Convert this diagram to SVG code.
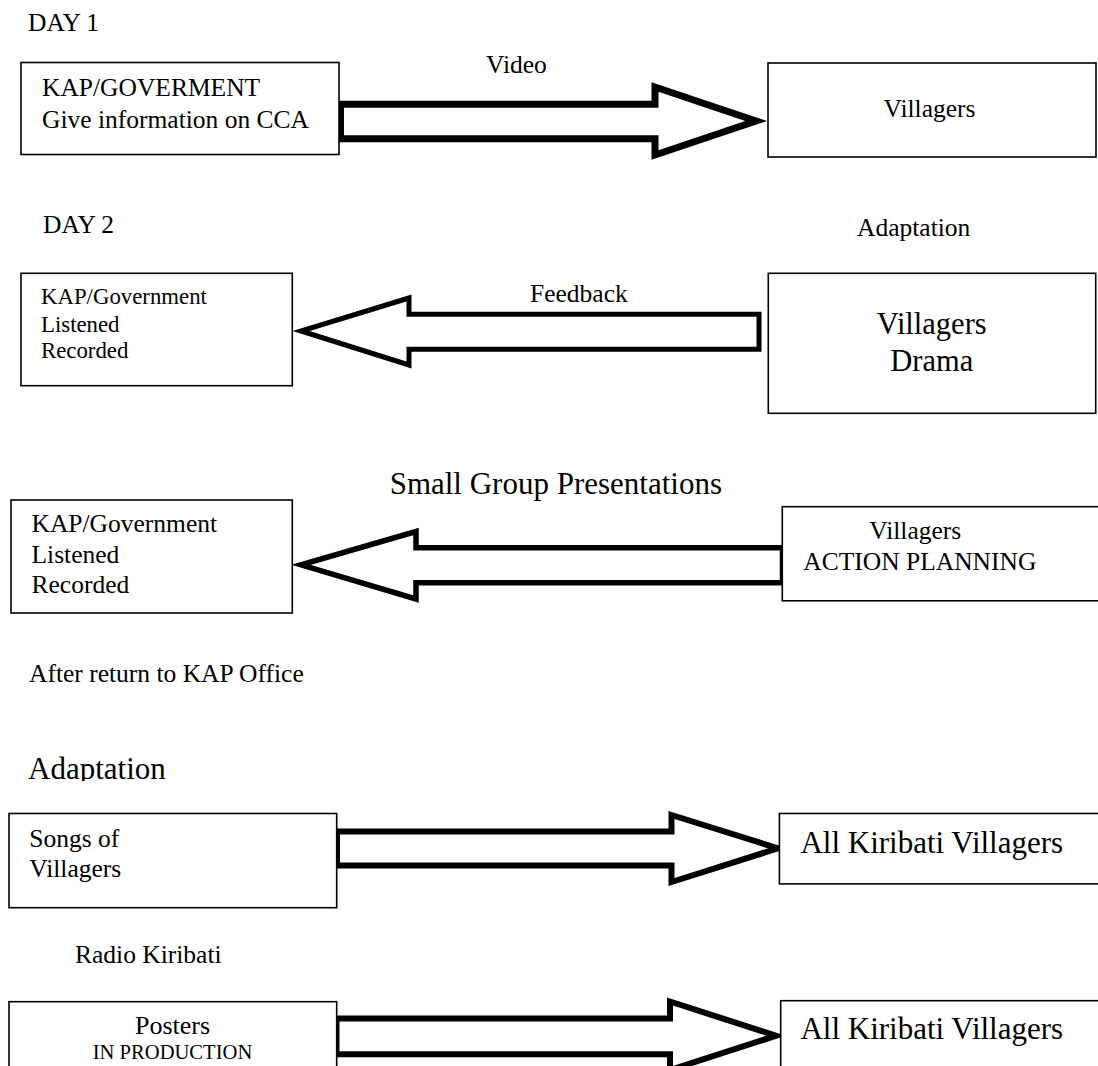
<svg xmlns="http://www.w3.org/2000/svg" width="1098" height="1066" viewBox="0 0 1098 1066">
<style>
text{font-family:"Liberation Serif","Times New Roman",serif;fill:#000}
.box{fill:#fff;stroke:#000;stroke-width:1.6}
.arr{fill:#fff;stroke:#000;stroke-linejoin:miter;stroke-miterlimit:10}
.t{font-size:25.5px}
.c{text-anchor:middle}
</style>
<defs>
<clipPath id="clipAd"><rect x="0" y="740" width="400" height="41"/></clipPath>
</defs>
<rect width="1098" height="1066" fill="#fff"/>

<!-- free labels -->
<text class="t" x="28" y="31">DAY 1</text>
<text class="t" x="43" y="233">DAY 2</text>
<text class="t" x="857" y="236">Adaptation</text>
<text class="t" x="486" y="72.5">Video</text>
<text class="t" x="530" y="301.5">Feedback</text>
<text x="722" y="494" font-size="31" text-anchor="end">Small Group Presentations</text>
<text class="t" x="29" y="681.7">After return to KAP Office</text>
<text x="28" y="779.4" font-size="31" clip-path="url(#clipAd)">Adaptation</text>
<text class="t" x="75" y="963.3">Radio Kiribati</text>

<!-- connectors -->
<g id="connectors">
<polygon class="arr" stroke-width="7" points="340.5,104.2 655,104.2 655,87 756,121 655,155 655,138.7 340.5,138.7"/>
<polygon class="arr" stroke-width="5" points="759,314.2 409,314.2 409,298 301,331 409,365 409,349.2 759,349.2"/>
<polygon class="arr" stroke-width="5.5" points="782.5,547.8 416,547.8 416,531.5 301,564.8 416,599 416,582.8 782.5,582.8"/>
<polygon class="arr" stroke-width="6" points="337,831.5 671.5,831.5 671.5,815 778,848.3 671.5,882 671.5,865.6 337,865.6"/>
<polygon class="arr" stroke-width="6" points="336.5,1018.4 670,1018.4 670,1001.5 776,1035.7 670,1070 670,1054.2 336.5,1054.2"/>
</g>

<!-- nodes -->
<g id="n-kap1">
<rect class="box" x="21" y="62.5" width="318" height="92"/>
<text class="t" x="42" y="96">KAP/GOVERMENT</text>
<text class="t" x="42" y="127.5">Give information on CCA</text>
</g>
<g id="n-villagers1">
<rect class="box" x="768" y="63" width="328" height="94"/>
<text class="t c" x="929.5" y="116.7">Villagers</text>
</g>
<g id="n-kap2">
<rect class="box" x="21" y="273.3" width="271.3" height="112.4"/>
<text x="41" y="304.3" font-size="22.8">KAP/Government</text>
<text x="41" y="331.7" font-size="22.8">Listened</text>
<text x="41" y="358.3" font-size="22.8">Recorded</text>
</g>
<g id="n-villagers2">
<rect class="box" x="768.3" y="273.3" width="327.4" height="140"/>
<text class="c" x="931.7" y="334" font-size="30.5">Villagers</text>
<text class="c" x="931.7" y="370.7" font-size="30.5">Drama</text>
</g>
<g id="n-kap3">
<rect class="box" x="11" y="500" width="281.3" height="113"/>
<text class="t" x="31.5" y="532">KAP/Government</text>
<text class="t" x="31.5" y="562.7">Listened</text>
<text class="t" x="31.5" y="593.3">Recorded</text>
</g>
<g id="n-villagers3">
<rect class="box" x="782.3" y="506.7" width="330" height="94.1"/>
<text class="t" x="869.3" y="539.3">Villagers</text>
<text class="t" x="803.3" y="570">ACTION PLANNING</text>
</g>
<g id="n-songs">
<rect class="box" x="9" y="813.5" width="327.7" height="94.2"/>
<text class="t" x="29.3" y="846.7">Songs of</text>
<text class="t" x="29.3" y="876.7">Villagers</text>
</g>
<g id="n-all1">
<rect class="box" x="779.4" y="813.5" width="330" height="70.4"/>
<text x="800.4" y="852.5" font-size="31">All Kiribati Villagers</text>
</g>
<g id="n-posters">
<rect class="box" x="9" y="1001.7" width="327.7" height="80"/>
<text class="c" x="172.5" y="1034" font-size="26">Posters</text>
<text class="c" x="172.5" y="1059.3" font-size="20.6">IN PRODUCTION</text>
</g>
<g id="n-all2">
<rect class="box" x="780.7" y="1000.7" width="330" height="80"/>
<text x="800.4" y="1038.8" font-size="31">All Kiribati Villagers</text>
</g>
</svg>
